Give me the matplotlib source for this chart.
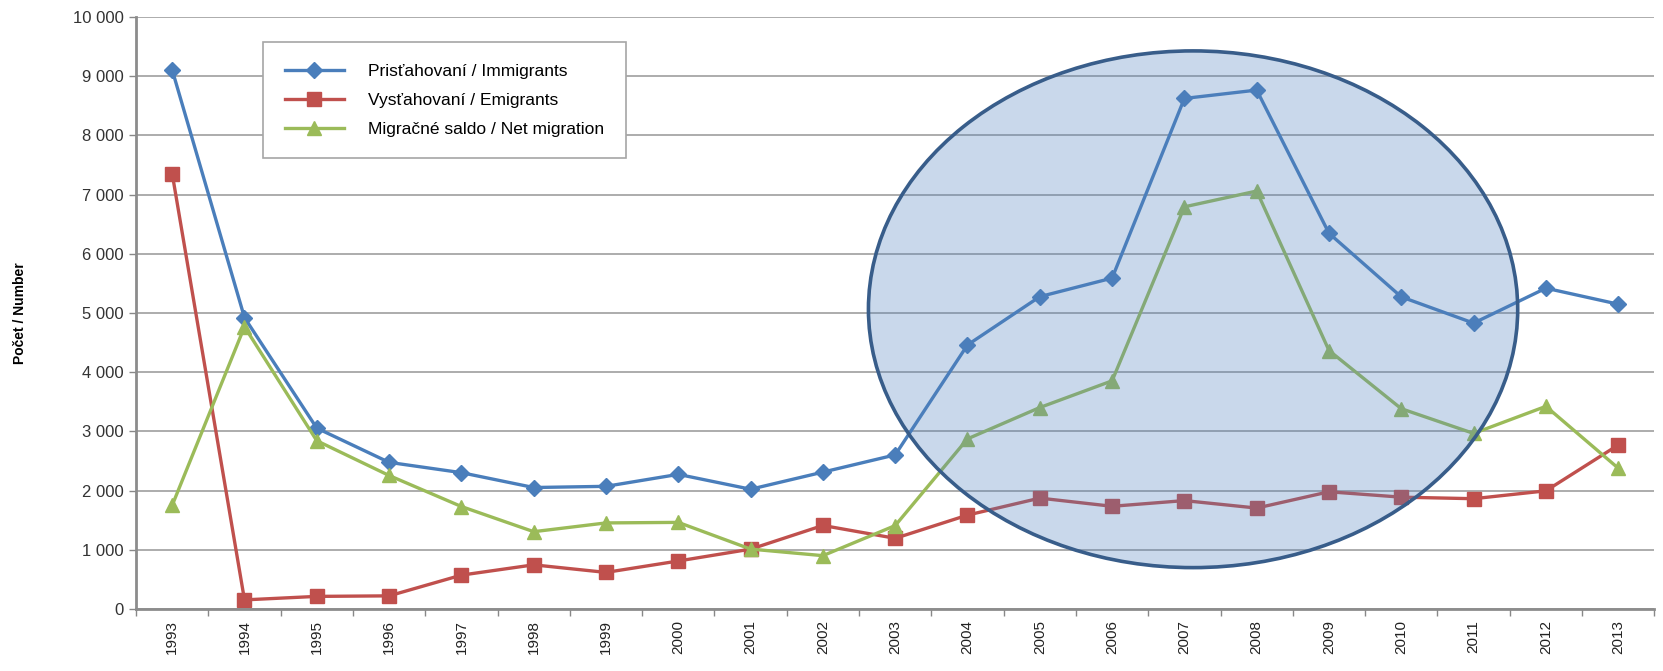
import numpy as np
import matplotlib.pyplot as plt
from matplotlib.patches import Ellipse
from matplotlib.ticker import FuncFormatter

plt.rcParams['font.family'] = ['Liberation Sans', 'DejaVu Sans']

years = [str(y) for y in range(1993, 2014)]
immigrants = [9106, 4922, 3055, 2477, 2303, 2052, 2072, 2274, 2023, 2312, 2603,
              4460, 5276, 5589, 8624, 8765, 6346, 5272, 4829, 5419, 5149]
emigrants = [7355, 154, 213, 222, 572, 746, 618, 811, 1011, 1411, 1194,
             1586, 1873, 1735, 1831, 1705, 1980, 1889, 1863, 1996, 2770]
net_migration = [1751, 4768, 2842, 2255, 1731, 1306, 1454, 1463, 1012, 901, 1409,
                 2874, 3403, 3854, 6793, 7060, 4366, 3383, 2966, 3423, 2379]

labels = ['Prisťahovaní / Immigrants', 'Vysťahovaní / Emigrants',
          'Migračné saldo / Net migration']

fig = plt.figure(figsize=(16.63, 6.71), dpi=100)
ax = fig.add_axes([0.0818, 0.0924, 0.913, 0.8823])

x = np.arange(len(years))
ax.plot(x, immigrants, color='#4a7ebb', lw=2.4, marker='D', ms=8.5, label=labels[0])
ax.plot(x, emigrants, color='#c0504d', lw=2.4, marker='s', ms=10, label=labels[1])
ax.plot(x, net_migration, color='#9bbb59', lw=2.4, marker='^', ms=10.5, label=labels[2])

# highlighted period 2004-2011
ax.add_patch(Ellipse((14.12, 5063), 8.98, 8728, facecolor='#4f81bd', alpha=0.3,
                     edgecolor='none', zorder=5))
ax.add_patch(Ellipse((14.12, 5063), 8.98, 8728, facecolor='none',
                     edgecolor='#385d8a', lw=2.6, zorder=6))

ax.set_xlim(-0.5, len(years) - 0.5)
ax.set_ylim(0, 10000)
ax.set_yticks(np.arange(0, 10001, 1000))
ax.yaxis.set_major_formatter(FuncFormatter(lambda v, p: f'{int(v):,}'.replace(',', ' ')))
ax.set_xticks(x)
ax.set_xticklabels(years, rotation=90)
ax.set_xticks(np.arange(-0.5, len(years)), minor=True)
ax.tick_params(axis='x', which='major', length=0, pad=8, labelsize=11, colors='#222222')
ax.tick_params(axis='x', which='minor', length=5, width=1, color='#888888', direction='out')
ax.tick_params(axis='y', length=5, width=1, color='#888888', labelsize=12,
               labelcolor='#333333', pad=4)

ax.grid(axis='y', color='#a6a6a6', lw=1.3)
ax.set_axisbelow(True)
for side in ['top', 'right']:
    ax.spines[side].set_visible(False)
for side in ['left', 'bottom']:
    ax.spines[side].set_color('#8c8c8c')
    ax.spines[side].set_linewidth(2)

ax.set_ylabel('Počet / Number', fontsize=10, fontweight='bold')
ax.yaxis.set_label_coords(-0.072, 0.5)

leg = ax.legend(loc='upper left', bbox_to_anchor=(0.0836, 0.958), borderaxespad=0,
                fontsize=12.5, fancybox=False, edgecolor='#a6a6a6', framealpha=1,
                handlelength=3.4, labelspacing=0.8, borderpad=1.25, handletextpad=1.4)
leg.get_frame().set_linewidth(1.2)
leg.set_zorder(4)

fig.savefig('out.png', dpi=100)
